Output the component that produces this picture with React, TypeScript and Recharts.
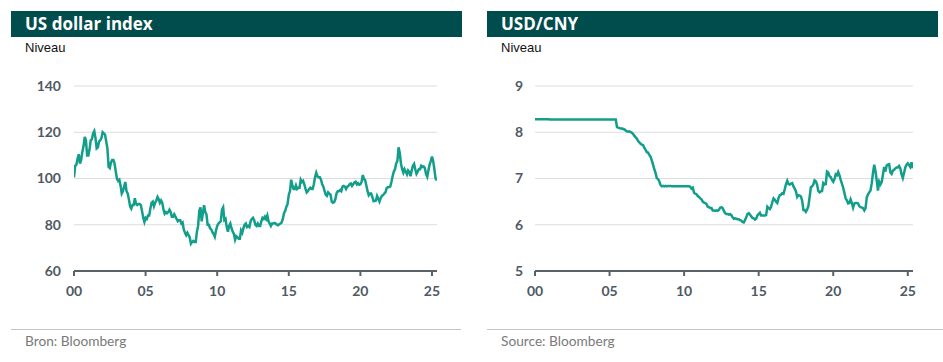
import { LineChart, Line, XAxis, YAxis, CartesianGrid } from 'recharts'

// US dollar index, monthly, Jan 2000 .. May 2025
const DXY = [
  100.5, 105.5, 106, 108.5, 110.5, 106.5, 108, 111.5, 114, 118, 116.5, 110, // 2000
  110, 112.5, 116.5, 117, 119.5, 120.5, 117.5, 113, 113.5, 116, 116.5, 117.5, // 2001
  120, 119.5, 119, 116, 113, 105, 104.5, 107, 108, 108, 106.5, 103, // 2002
  100, 99, 99.5, 97, 93.5, 94.5, 96.5, 98.5, 94.5, 93.5, 91, 88, // 2003
  87, 88.5, 88.5, 91.5, 89, 88.5, 89, 89, 88.5, 86, 83, 81.2, // 2004
  83, 82.5, 84, 84, 87, 89.5, 90, 88, 89.5, 90.5, 92, 91, // 2005
  89.5, 90.5, 89.5, 86.5, 84.8, 85.5, 85, 85.5, 86.5, 85.5, 83.5, 83.5, // 2006
  84.5, 83.5, 82.5, 81.5, 82, 82, 80.5, 81, 78, 76.5, 75.5, 76.5, // 2007
  75.5, 74.5, 71.8, 72.5, 73, 72.5, 72.5, 77, 79.5, 86, 87.5, 81.5, // 2008
  85, 88.5, 85.5, 84.5, 80, 80, 78.5, 78, 76.8, 76, 74.8, 77.5, // 2009
  79.5, 80.5, 81, 81.5, 86.5, 87.5, 82, 82.5, 79, 77, 79.5, 80.5, // 2010
  78.5, 77, 76, 73.5, 75, 74.5, 74, 74, 77.5, 76.5, 78.5, 80, // 2011
  80.5, 79, 79.5, 79, 81.5, 82.5, 83, 82, 80, 79.5, 80.5, 79.5, // 2012
  79.5, 81.5, 83, 82.5, 83.5, 82.5, 84, 81.5, 80.5, 79.5, 80.5, 80.5, // 2013
  80.8, 80.5, 80, 79.8, 80.2, 80.5, 81, 82.5, 85, 86, 87.8, 89, // 2014
  93, 94.5, 99.5, 97, 95.5, 95.5, 97, 95.5, 96, 96, 99.5, 98.5, // 2015
  99, 97.5, 95.5, 94, 94.5, 95.5, 96, 95.5, 95.5, 97.5, 100.5, 102.5, // 2016
  101, 100.5, 100.5, 99.5, 97.5, 96.5, 94.5, 93, 92.5, 94, 93.5, 93, // 2017
  90, 89.5, 89.8, 91, 93.5, 94.5, 94.5, 95, 94.5, 96.5, 96.8, 96.5, // 2018
  95.5, 96.5, 96.8, 97.5, 97.8, 96.8, 97.5, 98.3, 98.6, 97.5, 98, 97.3, // 2019
  97.5, 98.5, 101.5, 99.8, 99.3, 97, 94.5, 92.8, 93.5, 93.5, 92, 90.2, // 2020
  90.3, 90.5, 92.5, 91.3, 90, 91.5, 92.5, 92.8, 93.5, 94, 95.8, 96.2, // 2021
  96.3, 96.5, 98.5, 101, 103, 104, 106.5, 107.5, 113.5, 111, 106.5, 104, // 2022
  102.5, 104, 103, 101.8, 103.5, 102.8, 101, 103.5, 105.5, 106.3, 104, 102, // 2023
  103, 104, 104, 105.5, 105, 105.2, 104.5, 102, 100.8, 103.5, 106, 107.5, // 2024
  109.5, 107.5, 104, 100, 99.2, // 2025
]

// USD/CNY, monthly, Jan 2000 .. May 2025
const CNY = [
  8.28, 8.28, 8.28, 8.28, 8.28, 8.28, 8.28, 8.28, 8.28, 8.28, 8.28, 8.28, // 2000
  8.277, 8.277, 8.277, 8.277, 8.277, 8.277, 8.277, 8.277, 8.277, 8.277, 8.277, 8.277, // 2001
  8.277, 8.277, 8.277, 8.277, 8.277, 8.277, 8.277, 8.277, 8.277, 8.277, 8.277, 8.277, // 2002
  8.277, 8.277, 8.277, 8.277, 8.277, 8.277, 8.277, 8.277, 8.277, 8.277, 8.277, 8.277, // 2003
  8.277, 8.277, 8.277, 8.277, 8.277, 8.277, 8.277, 8.277, 8.277, 8.277, 8.277, 8.277, // 2004
  8.277, 8.277, 8.277, 8.277, 8.277, 8.277, 8.11, 8.1, 8.09, 8.08, 8.08, 8.07, // 2005
  8.06, 8.04, 8.02, 8.01, 8.02, 8.0, 7.99, 7.96, 7.92, 7.89, 7.86, 7.81, // 2006
  7.78, 7.75, 7.73, 7.72, 7.66, 7.62, 7.57, 7.56, 7.51, 7.47, 7.39, 7.3, // 2007
  7.2, 7.12, 7.01, 6.99, 6.94, 6.86, 6.83, 6.84, 6.83, 6.84, 6.83, 6.84, // 2008
  6.84, 6.84, 6.83, 6.83, 6.83, 6.83, 6.83, 6.83, 6.83, 6.83, 6.83, 6.83, // 2009
  6.83, 6.83, 6.83, 6.83, 6.83, 6.82, 6.78, 6.8, 6.69, 6.67, 6.66, 6.62, // 2010
  6.6, 6.57, 6.55, 6.5, 6.48, 6.47, 6.45, 6.39, 6.38, 6.36, 6.36, 6.31, // 2011
  6.31, 6.3, 6.31, 6.3, 6.32, 6.37, 6.38, 6.36, 6.3, 6.25, 6.23, 6.23, // 2012
  6.22, 6.23, 6.21, 6.16, 6.13, 6.14, 6.13, 6.12, 6.12, 6.1, 6.09, 6.06, // 2013
  6.05, 6.1, 6.16, 6.23, 6.25, 6.22, 6.18, 6.15, 6.14, 6.11, 6.13, 6.2, // 2014
  6.23, 6.26, 6.2, 6.2, 6.2, 6.2, 6.21, 6.39, 6.36, 6.34, 6.39, 6.49, // 2015
  6.57, 6.54, 6.5, 6.47, 6.58, 6.64, 6.65, 6.68, 6.67, 6.77, 6.88, 6.95, // 2016
  6.88, 6.87, 6.89, 6.9, 6.83, 6.78, 6.72, 6.6, 6.64, 6.63, 6.61, 6.52, // 2017
  6.32, 6.32, 6.28, 6.33, 6.4, 6.6, 6.81, 6.83, 6.87, 6.96, 6.94, 6.87, // 2018
  6.73, 6.7, 6.72, 6.73, 6.9, 6.87, 6.88, 7.15, 7.13, 7.05, 7.03, 6.97, // 2019
  6.93, 6.99, 7.09, 7.07, 7.14, 7.07, 6.97, 6.89, 6.8, 6.69, 6.57, 6.53, // 2020
  6.46, 6.47, 6.55, 6.47, 6.37, 6.46, 6.47, 6.47, 6.46, 6.4, 6.38, 6.37, // 2021
  6.36, 6.31, 6.36, 6.59, 6.66, 6.7, 6.74, 6.9, 7.12, 7.3, 7.16, 6.96, // 2022
  6.74, 6.93, 6.87, 6.92, 7.08, 7.25, 7.15, 7.28, 7.3, 7.31, 7.13, 7.1, // 2023
  7.17, 7.19, 7.22, 7.24, 7.24, 7.27, 7.22, 7.09, 7.01, 7.12, 7.24, 7.3, // 2024
  7.33, 7.29, 7.25, 7.35, 7.22, // 2025
]

const YEAR_TICKS = [0, 5, 10, 15, 20, 25]
const DXY_TICKS = [60, 80, 100, 120, 140]
const CNY_TICKS = [5, 6, 7, 8, 9]

const HEADER = '#014d4d'
const LINE = '#129e8b'
const AXIS = '#58626b'
const GRID = '#dddddd'

const toPoints = (vals: number[]) => vals.map((v, i) => ({ x: i / 12, v }))

const tickStyle = { fontFamily: 'Lato', fontWeight: 700, fontSize: 14, fill: '#4f5963' }

function Panel({
  left,
  width,
  lineWidth,
  chartLeft,
  title,
  footer,
  values,
  ticks,
  yWidth,
  yMargin,
  rightMargin,
}: {
  left: number
  width: number
  lineWidth: number
  chartLeft: number
  title: string
  footer: string
  values: number[]
  ticks: number[]
  yWidth: number
  yMargin: number
  rightMargin: number
}) {
  const data = toPoints(values)
  return (
    <>
      <div
        style={{
          position: 'absolute',
          left,
          top: 11,
          width,
          height: 26,
          background: HEADER,
          color: '#fff',
          fontFamily: '"Open Sans"',
          fontWeight: 700,
          fontSize: 17,
          lineHeight: '26px',
          paddingLeft: 14,
          boxSizing: 'border-box',
        }}
      >
        {title}
      </div>
      <div
        style={{
          position: 'absolute',
          left: left + 14,
          top: 40,
          fontFamily: '"Liberation Sans", Arial',
          fontSize: 13,
          lineHeight: '15px',
          color: '#111',
        }}
      >
        Niveau
      </div>
      <div style={{ position: 'absolute', left: chartLeft, top: 70 }}>
        <LineChart
          width={460}
          height={240}
          data={data}
          margin={{ top: 16, right: rightMargin, left: 0, bottom: 9 }}
        >
          <CartesianGrid stroke={GRID} vertical={false} />
          <XAxis
            dataKey="x"
            type="number"
            domain={[0, 25.35]}
            ticks={YEAR_TICKS}
            allowDataOverflow
            tickFormatter={(v: number) => String(v).padStart(2, '0')}
            height={30}
            tickSize={5}
            tickMargin={10}
            tick={tickStyle}
            axisLine={{ stroke: AXIS, strokeWidth: 2 }}
            tickLine={{ stroke: AXIS, strokeWidth: 2 }}
          />
          <YAxis
            type="number"
            domain={[ticks[0], ticks[ticks.length - 1]]}
            ticks={ticks}
            width={yWidth}
            tickSize={5}
            tickMargin={yMargin}
            tick={tickStyle}
            axisLine={false}
            tickLine={false}
          />
          <Line
            dataKey="v"
            type="linear"
            stroke={LINE}
            strokeWidth={2.5}
            dot={false}
            isAnimationActive={false}
          />
        </LineChart>
      </div>
      <div
        style={{
          position: 'absolute',
          left,
          top: 329,
          width: lineWidth,
          height: 1,
          background: '#c4c4c4',
        }}
      />
      <div
        style={{
          position: 'absolute',
          left: left + 14,
          top: 333,
          fontFamily: 'Lato',
          fontSize: 13.7,
          lineHeight: '16px',
          color: '#7a7a7a',
        }}
      >
        {footer}
      </div>
    </>
  )
}

export default function App() {
  return (
    <div style={{ position: 'absolute', left: 0, top: 0, width: 943, height: 362, background: '#fff', overflow: 'hidden' }}>
      <Panel
        left={11}
        width={451}
        lineWidth={450}
        chartLeft={0}
        title="US dollar index"
        footer="Bron: Bloomberg"
        values={DXY}
        ticks={DXY_TICKS}
        yWidth={74}
        yMargin={8}
        rightMargin={23}
      />
      <Panel
        left={487}
        width={451}
        lineWidth={456}
        chartLeft={470}
        title="USD/CNY"
        footer="Source: Bloomberg"
        values={CNY}
        ticks={CNY_TICKS}
        yWidth={65}
        yMargin={7}
        rightMargin={17}
      />
    </div>
  )
}
